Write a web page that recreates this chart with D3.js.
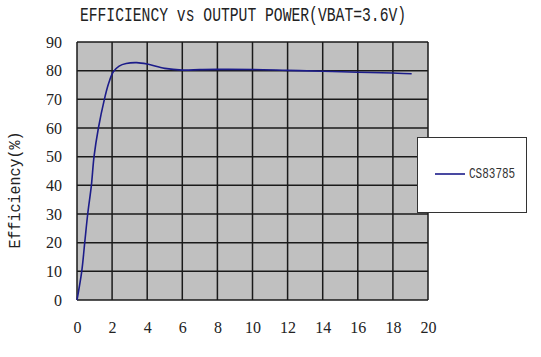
<!DOCTYPE html>
<html><head><meta charset="utf-8">
<script src="https://cdn.jsdelivr.net/npm/d3@7"></script>
<style>body{margin:0;background:#fff}</style>
</head><body>
<svg id="c" width="541" height="357"></svg>
<script>
const titleText = "EFFICIENCY vs OUTPUT POWER(VBAT=3.6V)";
const yLabel = "Efficiency(%)";
const seriesName = "CS83785";
const powerX = [0, 0.27, 0.44, 0.61, 0.82, 0.97, 1.22, 1.56, 1.8, 2.07, 2.4, 2.8, 3.4, 4, 5, 6, 7, 8, 10, 12, 14, 16, 18, 19.07];
const efficiency = [0, 10, 20, 30, 40, 50, 60, 70, 75.5, 79.6, 81.6, 82.5, 82.8, 82.3, 80.8, 80.2, 80.35, 80.45, 80.4, 80.1, 79.8, 79.45, 79.2, 78.95];
const xTicks = [0, 2, 4, 6, 8, 10, 12, 14, 16, 18, 20];
const yTicks = [0, 10, 20, 30, 40, 50, 60, 70, 80, 90];

const svg = d3.select("#c");
const x = d3.scaleLinear().domain([0, 20]).range([77, 428]);
const y = d3.scaleLinear().domain([0, 90]).range([300, 42]);

svg.append("rect").attr("x", x(0)).attr("y", y(90)).attr("width", x(20) - x(0)).attr("height", y(0) - y(90))
  .attr("fill", "#c0c0c0");

const g = svg.append("g");
g.selectAll(".vx").data(xTicks).join("line")
  .attr("x1", d => x(d)).attr("x2", d => x(d)).attr("y1", y(0)).attr("y2", y(90))
  .attr("stroke", "#1a1a1a").attr("stroke-width", 1.5);
g.selectAll(".hy").data(yTicks).join("line")
  .attr("y1", d => y(d)).attr("y2", d => y(d)).attr("x1", x(0)).attr("x2", x(20))
  .attr("stroke", "#1a1a1a").attr("stroke-width", 1.5);

const xAxis = svg.append("g").attr("transform", `translate(0,${y(0)})`)
  .call(d3.axisBottom(x).tickValues(xTicks).tickSize(0).tickPadding(22).tickFormat(d3.format("d")));
xAxis.select(".domain").remove();
xAxis.selectAll("text").attr("font-family", "Liberation Serif").attr("font-size", 16).attr("fill", "#222");

const yAxis = svg.append("g").attr("transform", `translate(${x(0)},0)`)
  .call(d3.axisLeft(y).tickValues(yTicks).tickSize(0).tickPadding(15).tickFormat(d3.format("d")));
yAxis.select(".domain").remove();
yAxis.selectAll("text").attr("font-family", "Liberation Serif").attr("font-size", 16).attr("fill", "#222");

const pts = powerX.map((v, i) => [v, efficiency[i]]);
svg.append("path").datum(pts)
  .attr("d", d3.line().x(d => x(d[0])).y(d => y(d[1])).curve(d3.curveCatmullRom.alpha(0.5)))
  .attr("fill", "none").attr("stroke", "#1c1c8a").attr("stroke-width", 1.6);

svg.append("text").attr("transform", "translate(243,21) scale(1,1.35)")
  .attr("text-anchor", "middle").attr("font-family", "Liberation Mono").attr("font-size", 14.7)
  .attr("fill", "#222").text(titleText);

svg.append("text").attr("transform", "translate(20,190) rotate(-90) scale(1,1.1)")
  .attr("text-anchor", "middle").attr("font-family", "Liberation Mono").attr("font-size", 15)
  .attr("fill", "#222").text(yLabel);

svg.append("rect").attr("x", 417.5).attr("y", 137.5).attr("width", 109).attr("height", 75)
  .attr("fill", "#fff").attr("stroke", "#333").attr("stroke-width", 1);
svg.append("line").attr("x1", 435).attr("x2", 465).attr("y1", 174).attr("y2", 174)
  .attr("stroke", "#1c1c8a").attr("stroke-width", 1.6);
svg.append("text").attr("transform", "translate(469,178) scale(1,1.25)")
  .attr("font-family", "Liberation Mono").attr("font-size", 11).attr("fill", "#333").text(seriesName);
</script>
</body></html>
